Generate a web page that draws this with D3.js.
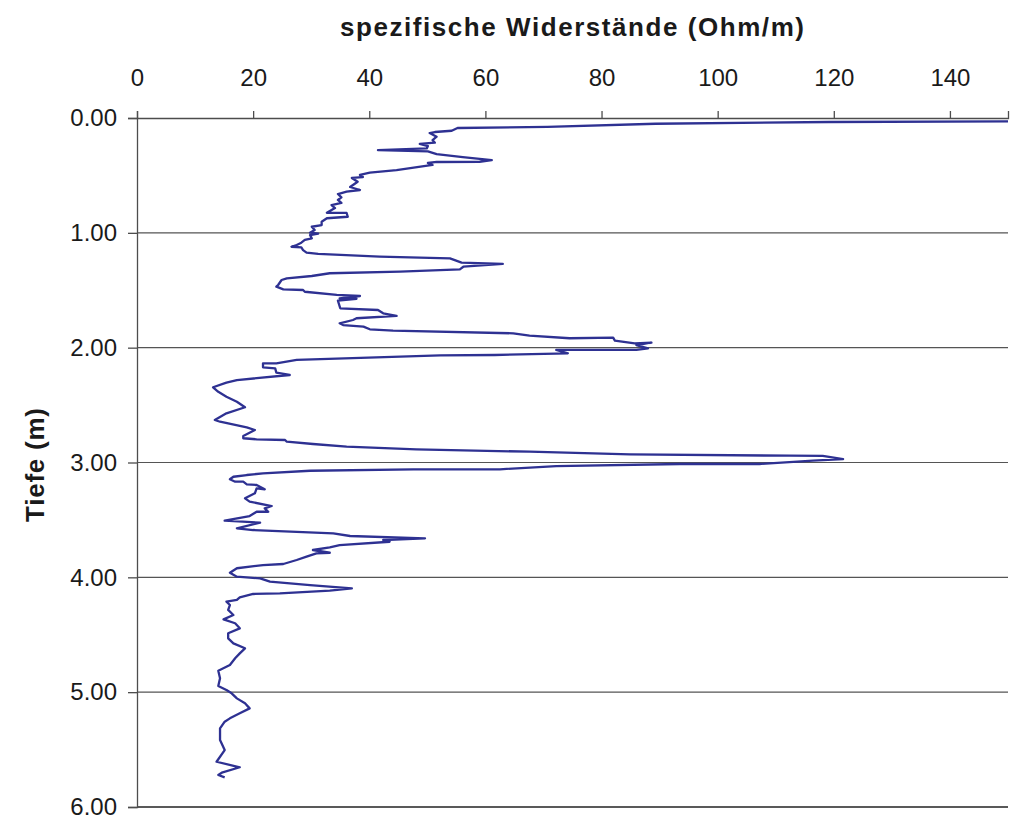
<!DOCTYPE html>
<html>
<head>
<meta charset="utf-8">
<script src="https://cdn.jsdelivr.net/npm/d3@7"></script>
<style>
  html, body { margin: 0; padding: 0; background: #fff; }
  svg { display: block; }
  text { font-family: "Liberation Sans", Arial, sans-serif; fill: #1a1a1a; }
</style>
</head>
<body>
<svg id="chart" width="1020" height="820"></svg>
<script>
// ---- data ----
const xTicks = [0, 20, 40, 60, 80, 100, 120, 140];
const yTicks = [0, 1, 2, 3, 4, 5, 6];
const xTitle = "spezifische Widerstände (Ohm/m)";
const yTitle = "Tiefe (m)";

// depth (m)
const depth = [
  0.03, 0.035, 0.05, 0.078, 0.087, 0.111, 0.122, 0.131, 0.163, 0.192,
  0.215, 0.226, 0.244, 0.265, 0.28, 0.29, 0.314, 0.340, 0.366, 0.381,
  0.383, 0.392, 0.409, 0.453, 0.476, 0.496, 0.514, 0.522, 0.555, 0.601,
  0.627, 0.642, 0.662, 0.691, 0.714, 0.740, 0.758, 0.784, 0.825, 0.827,
  0.860, 0.873, 0.903, 0.932, 0.947, 0.975, 0.999, 1.006, 1.019, 1.048,
  1.062, 1.086, 1.106, 1.121, 1.126, 1.150, 1.173, 1.184, 1.208, 1.222,
  1.260, 1.271, 1.295, 1.318, 1.338, 1.352, 1.376, 1.396, 1.411, 1.454,
  1.469, 1.492, 1.498, 1.513, 1.541, 1.550, 1.570, 1.574, 1.591, 1.657,
  1.672, 1.701, 1.724, 1.744, 1.759, 1.788, 1.803, 1.817, 1.840, 1.852,
  1.875, 1.896, 1.918, 1.913, 1.939, 1.962, 1.957, 1.977, 2.006, 2.020,
  2.020, 2.049, 2.064, 2.068, 2.107, 2.136, 2.136, 2.171, 2.180, 2.218,
  2.238, 2.282, 2.305, 2.345, 2.384, 2.427, 2.471, 2.519, 2.572, 2.630,
  2.645, 2.694, 2.717, 2.769, 2.789, 2.798, 2.804, 2.819, 2.839, 2.862,
  2.885, 2.906, 2.929, 2.941, 2.943, 2.970, 2.984, 3.013, 3.013, 3.031,
  3.059, 3.059, 3.072, 3.094, 3.109, 3.124, 3.146, 3.167, 3.167, 3.190,
  3.196, 3.233, 3.225, 3.268, 3.312, 3.341, 3.379, 3.399, 3.429, 3.429,
  3.466, 3.507, 3.524, 3.573, 3.588, 3.617, 3.640, 3.660, 3.675, 3.690,
  3.719, 3.739, 3.762, 3.786, 3.791, 3.820, 3.849, 3.884, 3.893, 3.921,
  3.960, 3.994, 4.009, 4.038, 4.067, 4.096, 4.116, 4.139, 4.145, 4.174,
  4.197, 4.212, 4.241, 4.284, 4.328, 4.366, 4.400, 4.444, 4.487, 4.531,
  4.575, 4.618, 4.662, 4.705, 4.763, 4.813, 4.879, 4.946, 4.981, 5.010,
  5.054, 5.097, 5.141, 5.184, 5.228, 5.257, 5.315, 5.417, 5.504, 5.606,
  5.654, 5.701, 5.721, 5.742
];

// specific resistance (Ohm/m)
const resistance = [
  150.0, 119.1, 89.3, 70.7, 55.2, 54.2, 51.3, 50.4, 51.6, 50.9,
  51.3, 48.7, 50.1, 49.9, 41.5, 50.1, 51.6, 56.1, 61.1, 59.0,
  51.6, 50.1, 50.9, 44.7, 40.1, 38.4, 38.9, 37.0, 38.0, 36.7,
  38.4, 36.1, 34.6, 35.2, 34.6, 35.2, 33.5, 34.1, 32.7, 36.1,
  36.3, 32.7, 31.8, 31.8, 30.1, 30.6, 29.8, 31.2, 29.8, 30.1,
  28.9, 28.3, 27.5, 26.6, 28.3, 28.6, 29.2, 31.2, 41.8, 53.9,
  55.9, 63.0, 56.2, 55.6, 45.3, 33.2, 30.1, 25.8, 24.9, 24.3,
  24.0, 25.2, 28.6, 28.9, 34.4, 38.4, 34.9, 37.8, 34.6, 35.0,
  41.5, 42.4, 44.7, 37.8, 37.2, 34.9, 35.5, 39.0, 40.1, 44.1,
  64.8, 67.6, 74.5, 82.0, 82.3, 85.7, 88.6, 86.0, 88.0, 86.0,
  72.2, 74.2, 61.6, 52.2, 27.5, 24.0, 21.7, 21.7, 23.8, 24.0,
  26.3, 17.2, 15.4, 13.1, 14.0, 15.4, 17.2, 18.6, 15.4, 13.4,
  14.3, 18.9, 20.3, 18.3, 18.3, 20.6, 25.5, 25.8, 30.3, 36.1,
  48.1, 67.6, 84.9, 112.4, 118.1, 121.6, 116.4, 107.2, 93.5, 72.2,
  62.5, 47.6, 29.8, 21.7, 18.9, 16.6, 16.0, 16.9, 18.3, 18.9,
  20.6, 22.0, 20.6, 20.3, 18.6, 19.4, 23.2, 22.0, 22.6, 20.6,
  19.4, 15.1, 21.2, 17.2, 20.0, 33.8, 36.7, 49.6, 42.4, 43.5,
  34.9, 33.2, 30.3, 33.2, 30.9, 29.2, 27.5, 25.2, 21.7, 17.2,
  16.0, 17.2, 21.2, 22.9, 29.8, 37.0, 33.2, 24.6, 20.0, 17.7,
  17.2, 15.4, 16.0, 15.7, 16.6, 14.9, 16.9, 17.7, 15.7, 15.7,
  16.6, 18.6, 17.7, 16.9, 16.0, 14.0, 14.3, 14.0, 15.4, 16.3,
  17.2, 18.6, 19.4, 17.7, 16.0, 15.1, 14.3, 14.3, 15.1, 13.7,
  17.7, 14.6, 14.0, 15.1
];

// ---- layout ----
const svg = d3.select("#chart");
const mLeft = 137, mRight = 1008, mTop = 118, mBottom = 807;

const x = d3.scaleLinear().domain([0, 150]).range([mLeft, mRight]);
const y = d3.scaleLinear().domain([0, 6]).range([mTop, mBottom]);

const axisColor = "#4d4d4d";

// horizontal gridlines
svg.append("g")
  .selectAll("line")
  .data(yTicks.filter(d => d > 0))
  .join("line")
  .attr("x1", mLeft).attr("x2", mRight)
  .attr("y1", d => y(d)).attr("y2", d => y(d))
  .attr("stroke", d => d === 6 ? "#222" : "#555")
  .attr("stroke-width", d => d === 6 ? 1.6 : 1.1);

// top axis
const gx = svg.append("g")
  .attr("transform", `translate(0,${mTop})`)
  .call(d3.axisTop(x).tickValues(xTicks).tickSize(7).tickPadding(25).tickFormat(d3.format("d")));
gx.select(".domain").attr("stroke", axisColor).attr("stroke-width", 1.3);
gx.selectAll(".tick line").attr("stroke", axisColor).attr("stroke-width", 1.3);
gx.selectAll(".tick text")
  .attr("font-size", 24)
  .attr("font-family", "Liberation Sans, Arial, sans-serif")
  .attr("fill", "#1a1a1a");

// left axis
const gy = svg.append("g")
  .attr("transform", `translate(${mLeft},0)`)
  .call(d3.axisLeft(y).tickValues(yTicks).tickSize(9).tickPadding(11).tickFormat(d3.format(".2f")));
gy.select(".domain").attr("stroke", axisColor).attr("stroke-width", 1.3);
gy.selectAll(".tick line").attr("stroke", axisColor).attr("stroke-width", 1.3);
gy.selectAll(".tick text")
  .attr("font-size", 24)
  .attr("font-family", "Liberation Sans, Arial, sans-serif")
  .attr("fill", "#1a1a1a");

// data line
const pts = depth.map((d, i) => ({ d, v: resistance[i] }));
svg.append("defs").append("clipPath").attr("id", "plotclip")
  .append("rect").attr("x", mLeft).attr("y", mTop - 2).attr("width", mRight - mLeft).attr("height", mBottom - mTop + 2);

svg.append("path")
  .datum(pts)
  .attr("clip-path", "url(#plotclip)")
  .attr("fill", "none")
  .attr("stroke", "#2e3192")
  .attr("stroke-width", 2.3)
  .attr("stroke-linejoin", "round")
  .attr("d", d3.line().x(p => x(p.v)).y(p => y(p.d)));

// titles
svg.append("text")
  .attr("x", 572).attr("y", 36)
  .attr("text-anchor", "middle")
  .attr("font-size", 26)
  .attr("font-weight", "bold")
  .attr("textLength", 464)
  .attr("lengthAdjust", "spacing")
  .text(xTitle);

svg.append("text")
  .attr("transform", "translate(44,465) rotate(-90)")
  .attr("text-anchor", "middle")
  .attr("font-size", 26)
  .attr("font-weight", "bold")
  .attr("textLength", 114)
  .attr("lengthAdjust", "spacing")
  .text(yTitle);
</script>
</body>
</html>
